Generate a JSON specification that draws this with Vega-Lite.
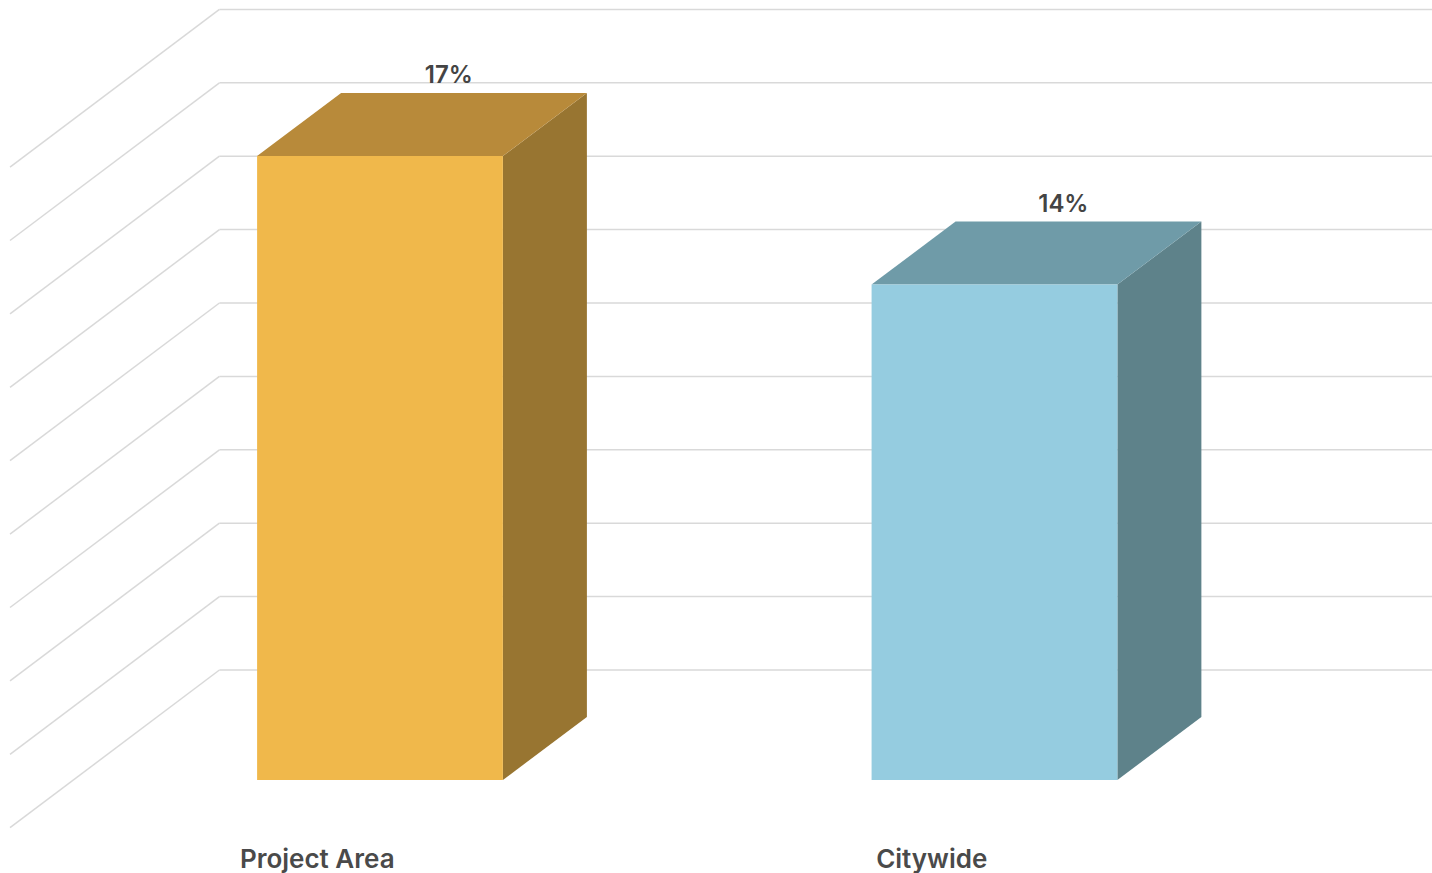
{
  "$schema": "https://vega.github.io/schema/vega-lite/v6.json",
  "width": 1432,
  "height": 873,
  "autosize": {"type": "none"},
  "padding": 0,
  "background": "white",
  "config": {"view": {"stroke": null}},
  "datasets": {
    "bars": [
      {"category": "Project Area", "value": 17},
      {"category": "Citywide", "value": 13.5}
    ],
    "grid": [
      {"v": 0}, {"v": 2}, {"v": 4}, {"v": 6}, {"v": 8},
      {"v": 10}, {"v": 12}, {"v": 14}, {"v": 16}, {"v": 18}
    ]
  },
  "layer": [
    {
      "data": {"name": "grid"},
      "transform": [
        {"calculate": "0.2387", "as": "wx1"},
        {"calculate": "2.2387", "as": "wx2"},
        {"calculate": "datum.v + 2.997", "as": "wy"}
      ],
      "mark": {"type": "rule", "color": "#d9d9d9", "strokeWidth": 1.5},
      "encoding": {
        "x": {"field": "wx1", "type": "quantitative", "scale": {"domain": [-0.1184, 2.212], "nice": false, "zero": false}, "axis": null},
        "x2": {"field": "wx2"},
        "y": {"field": "wy", "type": "quantitative", "scale": {"domain": [-2.534, 21.253], "nice": false, "zero": false}, "axis": null}
      }
    },
    {
      "data": {"name": "grid"},
      "transform": [
        {"calculate": "0.2387", "as": "wx1"},
        {"calculate": "-0.1021", "as": "fx"},
        {"calculate": "datum.v + 2.997", "as": "wy"},
        {"calculate": "datum.v - 1.30", "as": "fy"}
      ],
      "mark": {"type": "rule", "color": "#d9d9d9", "strokeWidth": 1.5},
      "encoding": {
        "x": {"field": "wx1", "type": "quantitative", "scale": {"domain": [-0.1184, 2.212], "nice": false, "zero": false}, "axis": null},
        "x2": {"field": "fx"},
        "y": {"field": "wy", "type": "quantitative", "scale": {"domain": [-2.534, 21.253], "nice": false, "zero": false}, "axis": null},
        "y2": {"field": "fy"}
      }
    },
    {
      "data": {"name": "bars"},
      "transform": [
        {"window": [{"op": "row_number", "as": "rn"}]},
        {"calculate": "datum.rn - 1", "as": "idx"},
        {"calculate": "[0, 1]", "as": "zs"},
        {"flatten": ["zs"]},
        {"calculate": "datum.idx + 0.7 + datum.zs * 0.1367", "as": "sx"},
        {"calculate": "datum.zs * 1.7166", "as": "slo"},
        {"calculate": "datum.value + datum.zs * 1.7166", "as": "shi"}
      ],
      "mark": {"type": "area", "orient": "vertical"},
      "encoding": {
        "x": {"field": "sx", "type": "quantitative", "scale": {"domain": [-0.1184, 2.212], "nice": false, "zero": false}, "axis": null},
        "y": {"field": "shi", "type": "quantitative", "stack": null, "scale": {"domain": [-2.534, 21.253], "nice": false, "zero": false}, "axis": null},
        "y2": {"field": "slo"},
        "detail": {"field": "category", "type": "nominal"},
        "fill": {"condition": {"test": "datum.category === 'Project Area'", "value": "#987531"}, "value": "#5e828a"}
      }
    },
    {
      "data": {"name": "bars"},
      "transform": [
        {"window": [{"op": "row_number", "as": "rn"}]},
        {"calculate": "datum.rn - 1", "as": "idx"},
        {"calculate": "[0, 1]", "as": "zs"},
        {"flatten": ["zs"]},
        {"calculate": "datum.idx + 0.3 + datum.zs * 0.1367", "as": "tx"},
        {"calculate": "datum.idx + 0.7 + datum.zs * 0.1367", "as": "tx2"},
        {"calculate": "datum.value + datum.zs * 1.7166", "as": "ty"}
      ],
      "mark": {"type": "area", "orient": "horizontal"},
      "encoding": {
        "y": {"field": "ty", "type": "quantitative", "scale": {"domain": [-2.534, 21.253], "nice": false, "zero": false}, "axis": null},
        "x": {"field": "tx", "type": "quantitative", "stack": null, "scale": {"domain": [-0.1184, 2.212], "nice": false, "zero": false}, "axis": null},
        "x2": {"field": "tx2"},
        "detail": {"field": "category", "type": "nominal"},
        "fill": {"condition": {"test": "datum.category === 'Project Area'", "value": "#b88a3a"}, "value": "#6f9ba8"}
      }
    },
    {
      "data": {"name": "bars"},
      "transform": [
        {"window": [{"op": "row_number", "as": "rn"}]},
        {"calculate": "datum.rn - 1", "as": "idx"},
        {"calculate": "datum.idx + 0.3", "as": "fx1"},
        {"calculate": "datum.idx + 0.7", "as": "fx2"},
        {"calculate": "0", "as": "base"}
      ],
      "mark": {"type": "rect"},
      "encoding": {
        "x": {"field": "fx1", "type": "quantitative", "scale": {"domain": [-0.1184, 2.212], "nice": false, "zero": false}, "axis": null},
        "x2": {"field": "fx2"},
        "y": {"field": "value", "type": "quantitative", "scale": {"domain": [-2.534, 21.253], "nice": false, "zero": false}, "axis": null},
        "y2": {"field": "base"},
        "fill": {"condition": {"test": "datum.category === 'Project Area'", "value": "#f0b84b"}, "value": "#95cce0"}
      }
    },
    {
      "data": {"name": "bars"},
      "transform": [
        {"window": [{"op": "row_number", "as": "rn"}]},
        {"calculate": "datum.rn - 1", "as": "idx"},
        {"calculate": "datum.idx + 0.5 + 0.82 * 0.1367", "as": "lx"},
        {"calculate": "datum.value + 1.7166", "as": "ly"},
        {"calculate": "format(datum.value, '.0f') + '%'", "as": "label"}
      ],
      "mark": {"type": "text", "align": "center", "baseline": "alphabetic", "dy": -10, "font": "Inter", "fontWeight": 600, "fontSize": 24, "color": "#444444"},
      "encoding": {
        "x": {"field": "lx", "type": "quantitative", "scale": {"domain": [-0.1184, 2.212], "nice": false, "zero": false}, "axis": null},
        "y": {"field": "ly", "type": "quantitative", "scale": {"domain": [-2.534, 21.253], "nice": false, "zero": false}, "axis": null},
        "text": {"field": "label"}
      }
    },
    {
      "data": {"name": "bars"},
      "transform": [
        {"window": [{"op": "row_number", "as": "rn"}]},
        {"calculate": "datum.rn - 1", "as": "idx"},
        {"calculate": "datum.idx + 0.5 - 0.747 * 0.1367", "as": "cx"},
        {"calculate": "-1.2823", "as": "cy"}
      ],
      "mark": {"type": "text", "align": "center", "baseline": "alphabetic", "dy": 41, "font": "Inter", "fontWeight": 600, "fontSize": 26, "color": "#4a4a4a"},
      "encoding": {
        "x": {"field": "cx", "type": "quantitative", "scale": {"domain": [-0.1184, 2.212], "nice": false, "zero": false}, "axis": null},
        "y": {"field": "cy", "type": "quantitative", "scale": {"domain": [-2.534, 21.253], "nice": false, "zero": false}, "axis": null},
        "text": {"field": "category"}
      }
    }
  ]
}
